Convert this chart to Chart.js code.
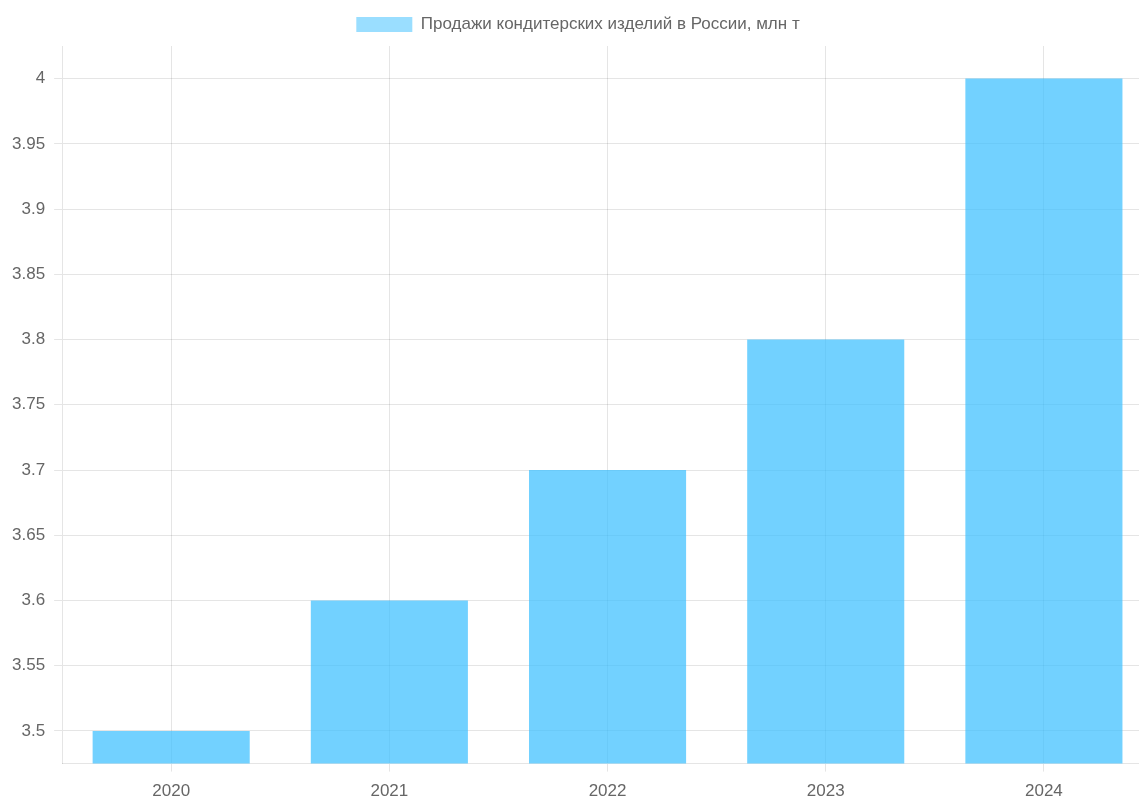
<!DOCTYPE html>
<html lang="ru">
  <head>
    <meta charset="UTF-8" />
    <script src="https://cdn.jsdelivr.net/npm/chart.js"></script>
    <title>Продажи кондитерских изделий</title>
    <style>
      html, body { margin: 0; padding: 0; background: #fff; overflow: hidden; }
      #wrap { width: 1155px; height: 812px; }
    </style>
  </head>
  <body>
    <div id="wrap"><canvas id="salesChart"></canvas></div>
    <script>
      // data
      const years = ['2020', '2021', '2022', '2023', '2024'];
      const sales = [3.5, 3.6, 3.7, 3.8, 4.0];
      const yTicks = [3.5, 3.55, 3.6, 3.65, 3.7, 3.75, 3.8, 3.85, 3.9, 3.95, 4];
      const seriesLabel = 'Продажи кондитерских изделий в России, млн т';

      Chart.defaults.font.family = '"Liberation Sans", Arial, sans-serif';
      Chart.defaults.font.size = 17;
      Chart.defaults.color = '#666';

      // a little extra room under the legend
      const legendGap = {
        id: 'legendGap',
        beforeInit(chart) {
          const fit = chart.legend.fit;
          chart.legend.fit = function () {
            fit.bind(chart.legend)();
            this.height += 3;
          };
        }
      };

      const ctx = document.getElementById('salesChart').getContext('2d');
      new Chart(ctx, {
        type: 'bar',
        data: {
          labels: years,
          datasets: [{
            label: seriesLabel,
            data: sales,
            backgroundColor: 'rgba(54, 190, 255, 0.7)',
            borderWidth: 0
          }]
        },
        options: {
          responsive: true,
          maintainAspectRatio: false,
          animation: false,
          layout: { padding: { top: 4, left: 3, right: 2 } },
          plugins: {
            legend: {
              labels: {
                boxWidth: 56,
                boxHeight: 15,
                padding: 12,
                generateLabels: (chart) => {
                  const items = Chart.defaults.plugins.legend.labels.generateLabels(chart);
                  items.forEach(it => { it.fillStyle = 'rgba(54, 190, 255, 0.5)'; it.lineWidth = 0; });
                  return items;
                }
              }
            }
          },
          scales: {
            x: {
              ticks: { padding: 10 },
              grid: { offset: false, color: 'rgba(0,0,0,0.1)' }
            },
            y: {
              min: 3.475,
              max: 4.025,
              afterBuildTicks: (scale) => {
                scale.ticks = yTicks.map(v => ({ value: v }));
              },
              ticks: {
                padding: 9,
                callback: (v) => String(Math.round(v * 100) / 100)
              },
              grid: { color: 'rgba(0,0,0,0.1)' }
            }
          }
        },
        plugins: [legendGap]
      });
    </script>
  </body>
</html>
